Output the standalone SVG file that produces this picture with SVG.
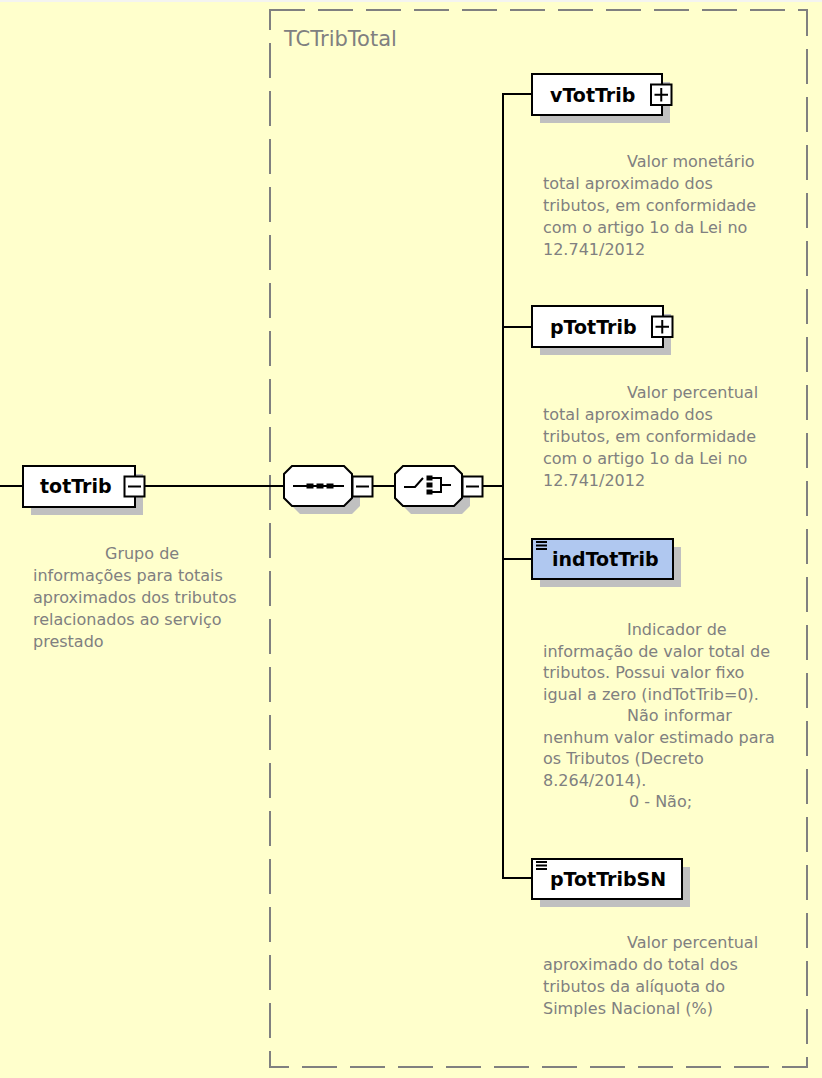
<svg xmlns="http://www.w3.org/2000/svg" width="822" height="1078" viewBox="0 0 822 1078">
<style>
.bg{fill:#FFFFCC}
.frame{fill:none;stroke:#808080;stroke-width:2;stroke-dasharray:35 13}
.box{fill:#FFFFFF;stroke:#000000;stroke-width:2}
.boxb{fill:#B0C8F0;stroke:#000000;stroke-width:2}
.shadow{fill:#C0C0C0}
.pm{fill:#FFFFFF;stroke:#000000;stroke-width:2}
.sign{stroke:#000000;stroke-width:2;fill:none}
.conn{stroke:#000000;stroke-width:2;fill:none}
.lbl{font-family:"DejaVu Sans",Verdana,sans-serif;font-weight:bold;font-size:19px;fill:#000000}
.desc{font-family:"DejaVu Sans",Verdana,sans-serif;font-size:16px;fill:#808080}
.title{font-family:"DejaVu Sans",Verdana,sans-serif;font-size:21px;fill:#808080}
.ico{fill:#000000}
.icol{stroke:#000000;stroke-width:2;fill:none}
</style>
<rect class="bg" x="0" y="0" width="822" height="1078"/>
<rect x="0" y="0" width="822" height="2" fill="#F4F4F0"/>

<g id="TCTribTotal">
<rect class="frame" x="270" y="10" width="537" height="1057"/>
<text class="title" x="284" y="46">TCTribTotal</text>
</g>

<g id="connectors">
<line class="conn" x1="0" y1="486" x2="23" y2="486"/>
<line class="conn" x1="145" y1="486" x2="284" y2="486"/>
<line class="conn" x1="373" y1="486" x2="395" y2="486"/>
<line class="conn" x1="483" y1="486" x2="503" y2="486"/>
<line class="conn" x1="503" y1="93" x2="503" y2="879"/>
<line class="conn" x1="502" y1="94" x2="532" y2="94"/>
<line class="conn" x1="502" y1="327" x2="532" y2="327"/>
<line class="conn" x1="502" y1="559" x2="532" y2="559"/>
<line class="conn" x1="502" y1="878" x2="532" y2="878"/>
</g>

<g id="totTrib">
<rect class="shadow" x="31" y="474" width="112" height="41"/>
<rect class="box" x="23" y="466" width="112" height="41"/>
<text class="lbl" x="40" y="493">totTrib</text>
<rect class="pm" x="124.5" y="476.5" width="20" height="20"/>
<line class="sign" x1="128" y1="486.5" x2="141" y2="486.5"/>
<text class="desc"><tspan x="105" y="559">Grupo de</tspan><tspan x="33" y="581">informações para totais</tspan><tspan x="33" y="603">aproximados dos tributos</tspan><tspan x="33" y="625">relacionados ao serviço</tspan><tspan x="33" y="647">prestado</tspan></text>
</g>

<g id="sequence">
<path class="shadow" d="M300,474 H352 L360,482 V506 L352,514 H300 L292,506 V482 Z"/>
<path class="box" d="M292,466 H344 L352,474 V498 L344,506 H292 L284,498 V474 Z"/>
<line class="icol" x1="293" y1="486" x2="344" y2="486"/>
<rect class="ico" x="306.5" y="483.5" width="7" height="5"/>
<rect class="ico" x="316.5" y="483.5" width="7" height="5"/>
<rect class="ico" x="326.5" y="483.5" width="7" height="5"/>
<rect class="pm" x="352.5" y="476.5" width="20" height="20"/>
<line class="sign" x1="356" y1="486.5" x2="369" y2="486.5"/>
</g>

<g id="choice">
<path class="shadow" d="M411,474 H462 L470,482 V506 L462,514 H411 L403,506 V482 Z"/>
<path class="box" d="M403,466 H454 L462,474 V498 L454,506 H403 L395,498 V474 Z"/>
<polyline class="icol" points="404,487 415,487 423,478"/>
<rect class="ico" x="426.5" y="475.5" width="6" height="5"/>
<rect class="ico" x="426.5" y="482.5" width="6" height="5"/>
<rect class="ico" x="426.5" y="489.5" width="6" height="5"/>
<polyline class="icol" points="432,478 441,478 441,492 432,492"/>
<line class="icol" x1="441" y1="485" x2="451" y2="485"/>
<rect class="pm" x="462.5" y="476.5" width="20" height="20"/>
<line class="sign" x1="466" y1="486.5" x2="479" y2="486.5"/>
</g>

<g id="vTotTrib">
<rect class="shadow" x="540" y="82" width="130" height="41"/>
<rect class="box" x="532" y="74" width="130" height="41"/>
<text class="lbl" x="550" y="101.5">vTotTrib</text>
<rect class="pm" x="651" y="84.5" width="20.5" height="20.5"/>
<line class="sign" x1="654.5" y1="94.75" x2="668" y2="94.75"/>
<line class="sign" x1="661.25" y1="88" x2="661.25" y2="101.5"/>
<text class="desc"><tspan x="627" y="167">Valor monetário</tspan><tspan x="543" y="189">total aproximado dos</tspan><tspan x="543" y="211">tributos, em conformidade</tspan><tspan x="543" y="233">com o artigo 1o da Lei no</tspan><tspan x="543" y="255">12.741/2012</tspan></text>
</g>

<g id="pTotTrib">
<rect class="shadow" x="540" y="314" width="131" height="41"/>
<rect class="box" x="532" y="306" width="131" height="41"/>
<text class="lbl" x="550" y="333.5">pTotTrib</text>
<rect class="pm" x="652" y="316.5" width="20.5" height="20.5"/>
<line class="sign" x1="655.5" y1="326.75" x2="669" y2="326.75"/>
<line class="sign" x1="662.25" y1="320" x2="662.25" y2="333.5"/>
<text class="desc"><tspan x="627" y="398">Valor percentual</tspan><tspan x="543" y="420">total aproximado dos</tspan><tspan x="543" y="442">tributos, em conformidade</tspan><tspan x="543" y="464">com o artigo 1o da Lei no</tspan><tspan x="543" y="486">12.741/2012</tspan></text>
</g>

<g id="indTotTrib">
<rect class="shadow" x="540" y="547" width="141" height="40"/>
<rect class="boxb" x="532" y="539" width="141" height="40"/>
<line class="icol" x1="536" y1="542" x2="547" y2="542"/>
<line class="icol" x1="536" y1="545.5" x2="547" y2="545.5"/>
<line class="icol" x1="536" y1="549" x2="547" y2="549"/>
<text class="lbl" x="552" y="566">indTotTrib</text>
<text class="desc"><tspan x="627" y="635">Indicador de</tspan><tspan x="543" y="656.5">informação de valor total de</tspan><tspan x="543" y="678">tributos. Possui valor fixo</tspan><tspan x="543" y="699.5">igual a zero (indTotTrib=0).</tspan><tspan x="627" y="721">Não informar</tspan><tspan x="543" y="742.5">nenhum valor estimado para</tspan><tspan x="543" y="764">os Tributos (Decreto</tspan><tspan x="543" y="785.5">8.264/2014).</tspan><tspan x="629" y="807">0 - Não;</tspan></text>
</g>

<g id="pTotTribSN">
<rect class="shadow" x="540" y="867" width="150" height="40"/>
<rect class="box" x="532" y="859" width="150" height="40"/>
<line class="icol" x1="536" y1="862" x2="547" y2="862"/>
<line class="icol" x1="536" y1="865.5" x2="547" y2="865.5"/>
<line class="icol" x1="536" y1="869" x2="547" y2="869"/>
<text class="lbl" x="550" y="885.5">pTotTribSN</text>
<text class="desc"><tspan x="627" y="948">Valor percentual</tspan><tspan x="543" y="970">aproximado do total dos</tspan><tspan x="543" y="992">tributos da alíquota do</tspan><tspan x="543" y="1014">Simples Nacional (%)</tspan></text>
</g>
</svg>
